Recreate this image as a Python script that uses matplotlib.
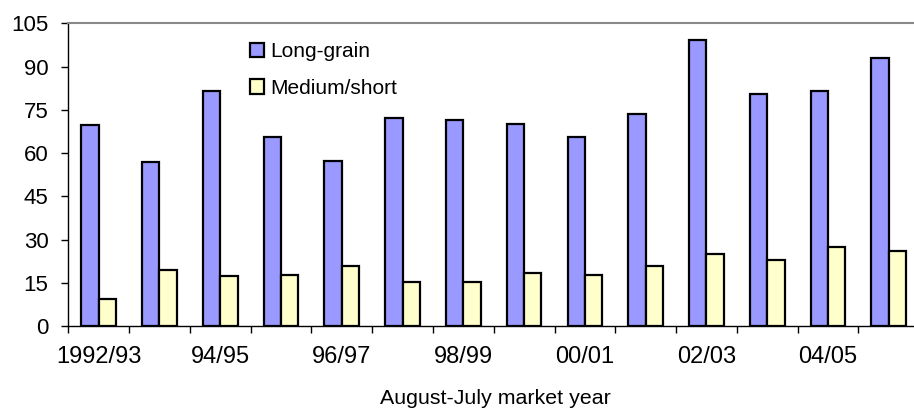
import matplotlib
matplotlib.use("Agg")
import matplotlib.pyplot as plt
from matplotlib.patches import Patch
import numpy as np

plt.rcParams["font.family"] = ["Liberation Sans", "DejaVu Sans"]

# Market years, August-July
years = ["1992/93", "93/94", "94/95", "95/96", "96/97", "97/98", "98/99",
         "99/00", "00/01", "01/02", "02/03", "03/04", "04/05", "05/06"]
long_grain = [69.7, 56.9, 81.4, 65.6, 57.3, 72.3, 71.5,
              70.2, 65.4, 73.7, 99.1, 80.6, 81.4, 93.0]
medium_short = [9.5, 19.4, 17.5, 17.6, 20.8, 15.4, 15.4,
                18.5, 17.8, 20.8, 25.1, 23.0, 27.4, 25.9]
y_ticks = [0, 15, 30, 45, 60, 75, 90, 105]

fig = plt.figure(figsize=(9.14, 4.09), dpi=100)
ax = fig.add_axes([0.0747, 0.2029, 0.931, 0.740])

x = np.arange(len(years))
w = 0.285
ax.bar(x - w / 2, long_grain, w, color="#9999FF", edgecolor="black", linewidth=1.6)
ax.bar(x + w / 2, medium_short, w, color="#FFFFCC", edgecolor="black", linewidth=1.6)

ax.set_xlim(-0.5, len(years) - 0.5)
ax.set_ylim(0, 105)
ax.set_yticks(y_ticks)
ax.tick_params(axis="y", labelsize=16, length=5.3, width=1, pad=9)

# category boundaries get the tick marks, every other category gets a label
ax.set_xticks(np.arange(-0.5, len(years), 1.0))
ax.set_xticklabels([])
ax.set_xticks(x, minor=True)
ax.set_xticklabels([y if i % 2 == 0 else "" for i, y in enumerate(years)], minor=True)
ax.tick_params(axis="x", which="major", length=5.3, width=1)
ax.tick_params(axis="x", which="minor", length=0, labelsize=17, pad=14.5)

ax.spines["right"].set_visible(False)
ax.spines["top"].set_color("#888888")
ax.spines["top"].set_linewidth(1.5)
ax.spines["left"].set_linewidth(1)
ax.spines["bottom"].set_linewidth(1)

# axis title sits near the bottom edge, centred under the plot
fig.text(0.5416, 5 / 409, "August-July market year", fontsize=15.4,
         ha="center", va="baseline")

handles = [Patch(facecolor="#9999FF", edgecolor="black", linewidth=1.6, label="Long-grain"),
           Patch(facecolor="#FFFFCC", edgecolor="black", linewidth=1.6, label="Medium/short")]
ax.legend(handles=handles, loc="upper left", bbox_to_anchor=(0.2135, 0.938),
          frameon=False, fontsize=15, handlelength=0.67, handleheight=0.67,
          handletextpad=0.3, labelspacing=0.85, borderpad=0, borderaxespad=0)

fig.savefig("out.png", dpi=100)
